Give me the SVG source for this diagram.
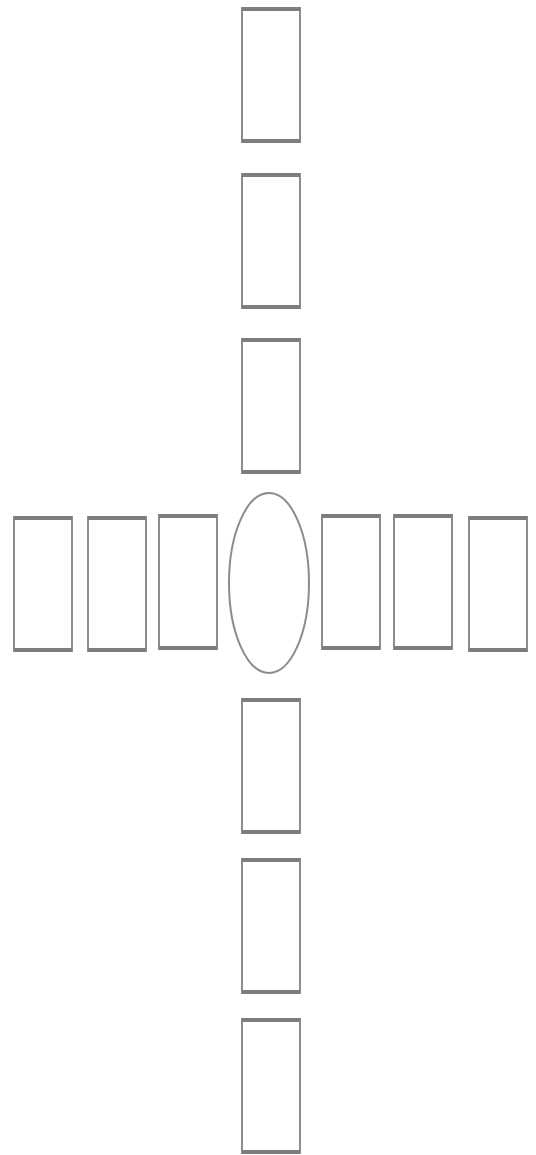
<svg xmlns="http://www.w3.org/2000/svg" width="536" height="1155" viewBox="0 0 536 1155">
<style>
.n{fill:#ffffff;stroke:#8c8c8c;stroke-width:2}
.e{fill:none;stroke:#7d7d7d;stroke-width:4}
</style>
<defs>
<g id="card">
<rect class="n" x="0" y="0" width="58" height="134"/>
<line class="e" x1="0" y1="1" x2="58" y2="1"/>
<line class="e" x1="0" y1="133" x2="58" y2="133"/>
</g>
</defs>
<rect width="536" height="1155" fill="#ffffff"/>
<g id="connectors"></g>
<g id="t1"><use href="#card" x="242" y="8"/></g>
<g id="t2"><use href="#card" x="242" y="174"/></g>
<g id="t3"><use href="#card" x="242" y="339"/></g>
<g id="center"><ellipse class="n" cx="269" cy="583" rx="40" ry="90"/></g>
<g id="l1"><use href="#card" x="14" y="517"/></g>
<g id="l2"><use href="#card" x="88" y="517"/></g>
<g id="l3"><use href="#card" x="159" y="515"/></g>
<g id="r1"><use href="#card" x="322" y="515"/></g>
<g id="r2"><use href="#card" x="394" y="515"/></g>
<g id="r3"><use href="#card" x="469" y="517"/></g>
<g id="b1"><use href="#card" x="242" y="699"/></g>
<g id="b2"><use href="#card" x="242" y="859"/></g>
<g id="b3"><use href="#card" x="242" y="1019"/></g>
</svg>
